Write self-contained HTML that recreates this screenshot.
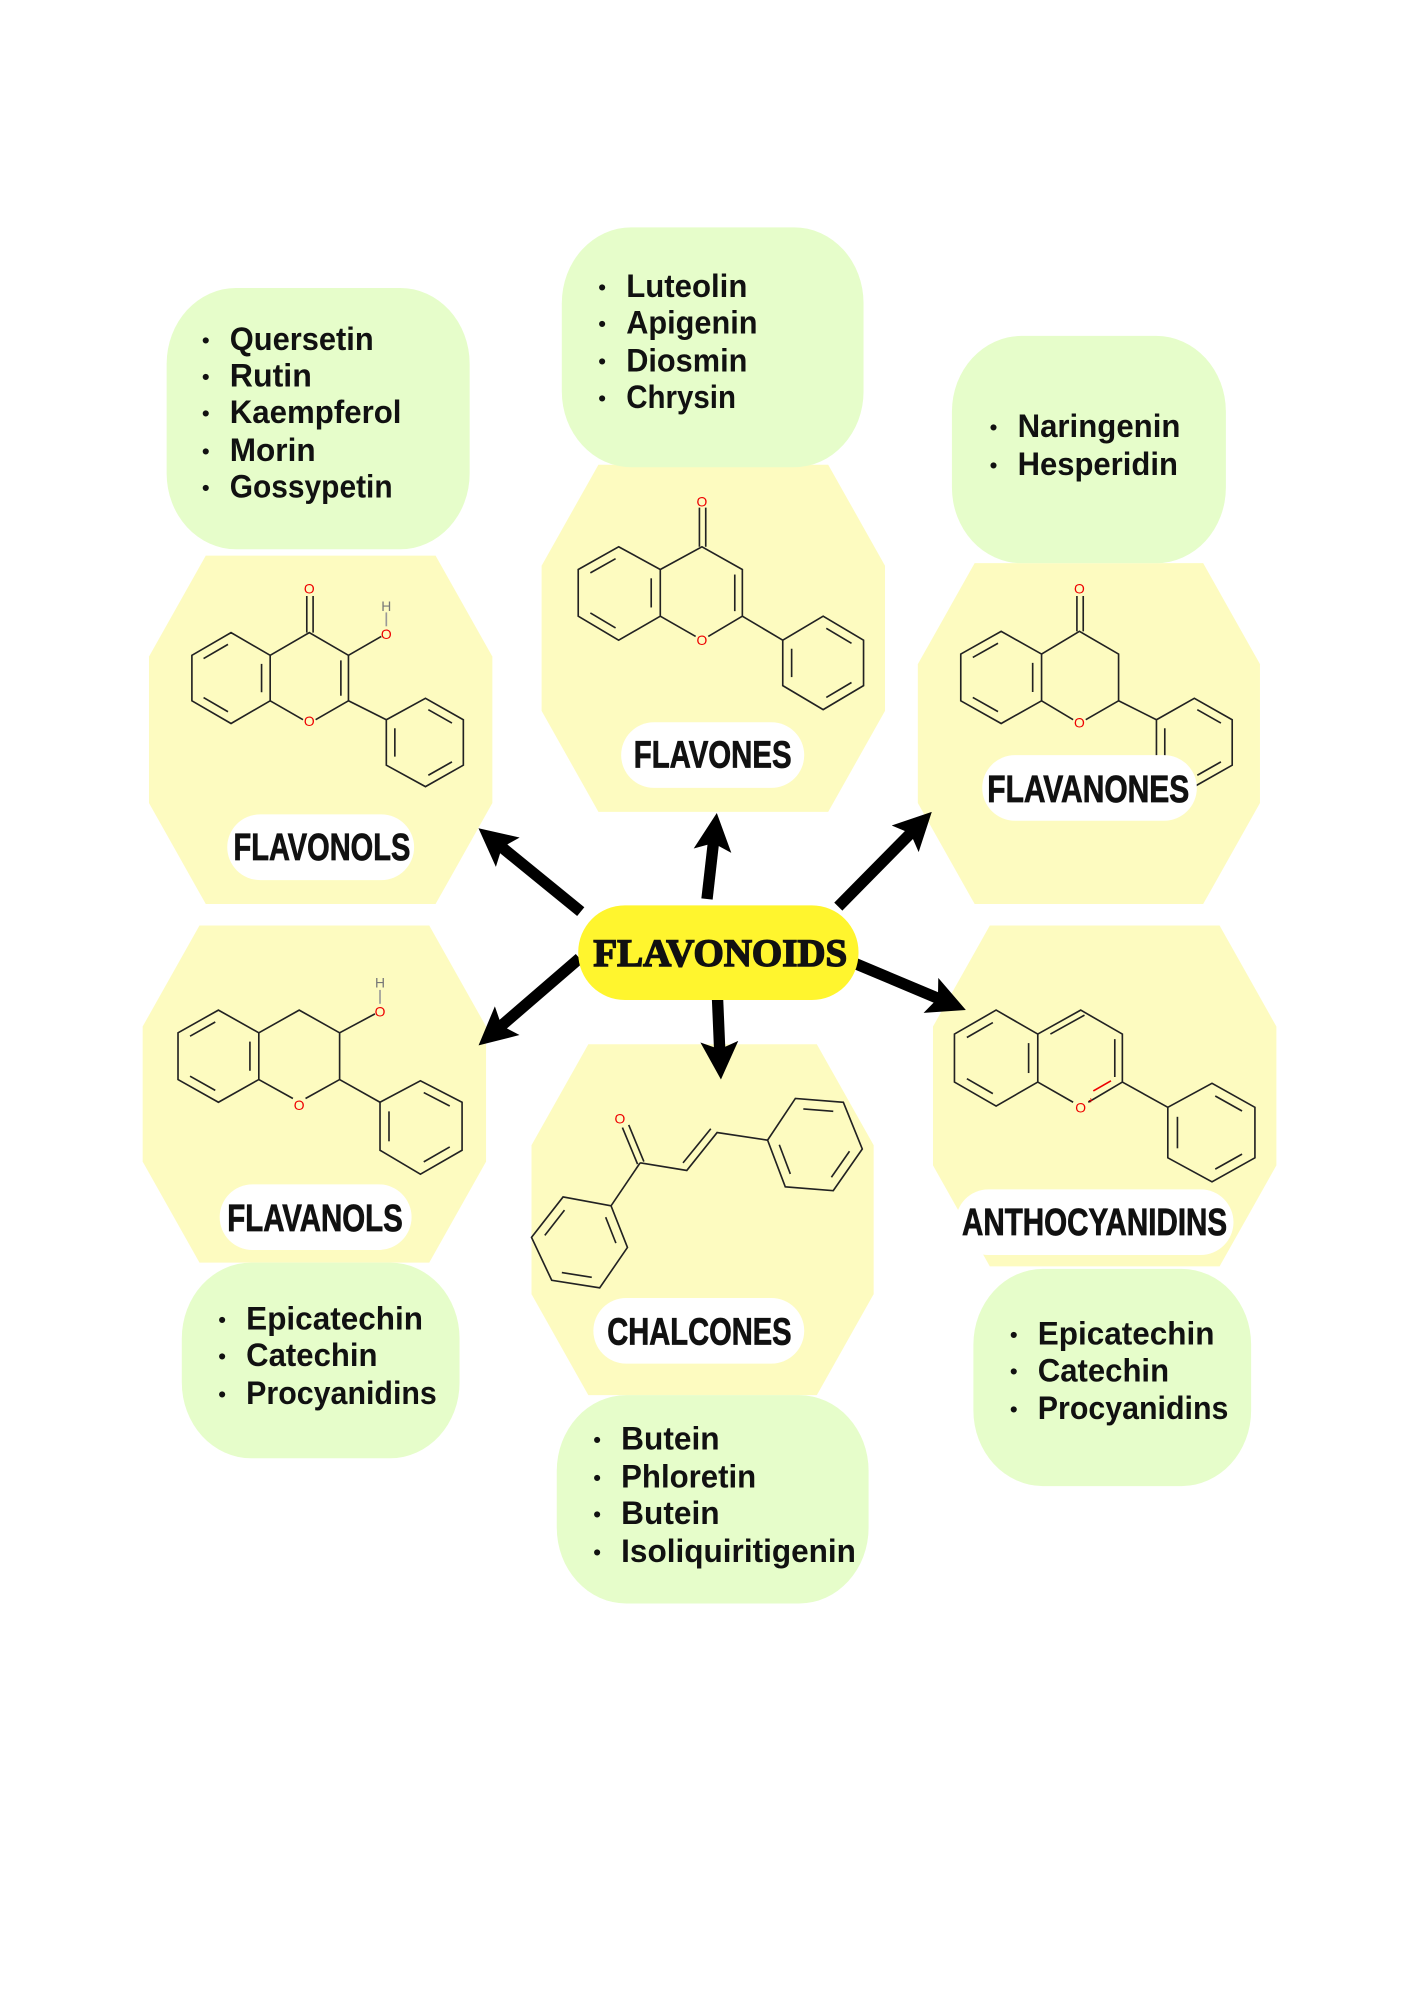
<!DOCTYPE html>
<html><head><meta charset="utf-8">
<style>
html,body{margin:0;padding:0;background:#fff;}
svg{display:block;}
.lst{font-family:"Liberation Sans",sans-serif;font-weight:bold;font-size:26px;fill:#111;}
.b{font-size:17px;}
.lbl{font-family:"Liberation Sans",sans-serif;font-weight:bold;font-size:30px;fill:#111;}
.m{stroke:#222;stroke-width:1.3;fill:none;}
.o{font-family:"Liberation Sans",sans-serif;font-size:11px;fill:#e00;text-anchor:middle;}
.h{font-family:"Liberation Sans",sans-serif;font-size:11px;fill:#777;text-anchor:middle;}
</style></head>
<body>
<svg id="s" width="1414" height="2000" viewBox="0 0 1120 1584" xmlns="http://www.w3.org/2000/svg">
<defs>
<marker id="ah" viewBox="0 0 30 30" refX="10" refY="15" markerWidth="30" markerHeight="30" orient="auto" markerUnits="userSpaceOnUse">
<path d="M0,0 L30,15 L0,30 L6,15 z" fill="#000"/>
</marker>
</defs>
<rect width="1120" height="1584" fill="#fff"/>

<g fill="#fdfbc0">
<polygon points="163,440 345,440 390,520 390,636 345,716 163,716 118,636 118,520"/>
<polygon points="474,368 656,368 701,448 701,563 656,643 474,643 429,563 429,448"/>
<polygon points="772,446 953,446 998,526 998,636 953,716 772,716 727,636 727,526"/>
<polygon points="158,733 340,733 385,813 385,920 340,1000 158,1000 113,920 113,813"/>
<polygon points="466,827 647,827 692,907 692,1025 647,1105 466,1105 421,1025 421,907"/>
<polygon points="784,733 966,733 1011,813 1011,923 966,1003 784,1003 739,923 739,813"/>
</g>

<g fill="#e6fdca">
<rect x="132" y="228" width="240" height="207" rx="55" ry="60"/>
<rect x="445" y="180" width="239" height="190" rx="55" ry="60"/>
<rect x="754" y="266" width="217" height="180" rx="55" ry="60"/>
<rect x="144" y="1000" width="220" height="155" rx="55" ry="60"/>
<rect x="441" y="1105" width="247" height="165" rx="55" ry="60"/>
<rect x="771" y="1005" width="220" height="172" rx="55" ry="60"/>
</g>

<g id="mol" class="m">
<polygon class="ring" points="183,501 214,519 214,555 183,573 152,555 152,519"/>
<polyline points="214,519 245,501 276,519 276,555 250,570"/>
<polyline points="240,570 214,555"/>
<line x1="270" y1="523" x2="270" y2="551"/>
<line x1="243" y1="501" x2="243" y2="472"/><line x1="248" y1="501" x2="248" y2="472"/>
<line x1="276" y1="519" x2="302" y2="504"/>
<line x1="306" y1="485" x2="306" y2="496" stroke="#999"/>
<line x1="276" y1="555" x2="306" y2="570"/>
<polygon class="ring" points="306,570 337,553 367,570 367,606 337,623 306,606"/>
<polygon class="ring" points="490,433 523,451 523,488 490,507 458,488 458,451"/>
<polyline points="523,451 556,433 588,451 588,488 561,504"/>
<polyline points="551,504 523,488"/>
<line x1="582" y1="455" x2="582" y2="484"/>
<line x1="554" y1="433" x2="554" y2="402"/><line x1="559" y1="433" x2="559" y2="402"/>
<line x1="588" y1="488" x2="620" y2="507"/>
<polygon class="ring" points="620,507 652,488 684,507 684,543 652,562 620,543"/>
<polygon class="ring" points="793,500 825,518 825,555 793,573 761,555 761,518"/>
<polyline points="825,518 855,500 886,518 886,555 860,570"/>
<polyline points="850,570 825,555"/>
<line x1="853" y1="500" x2="853" y2="472"/><line x1="858" y1="500" x2="858" y2="472"/>
<line x1="886" y1="555" x2="916" y2="570"/>
<polygon class="ring" points="916,570 946,553 976,570 976,606 946,623 916,606"/>
<polygon class="ring" points="173,800 205,818 205,855 173,873 141,855 141,818"/>
<polyline points="205,818 237,800 269,818 269,855 242,870"/>
<polyline points="232,870 205,855"/>
<line x1="269" y1="818" x2="297" y2="803"/>
<line x1="301" y1="784" x2="301" y2="795" stroke="#999"/>
<line x1="269" y1="855" x2="301" y2="873"/>
<polygon class="ring" points="301,873 333,856 366,873 366,911 333,930 301,911"/>
<polygon class="ring" points="789,800 822,819 822,857 789,876 756,857 756,819"/>
<polyline points="822,819 856,800 889,819 889,857 862,873"/>
<polyline points="850,873 822,857"/>
<line x1="829" y1="813" x2="856" y2="798" transform="translate(3,6)"/>
<line x1="883" y1="823" x2="883" y2="853"/>
<line x1="880" y1="856" x2="866" y2="864" stroke="#e00"/>
<line x1="889" y1="857" x2="925" y2="877"/>
<polygon class="ring" points="925,877 960,858 994,877 994,917 960,936 925,917"/>
<line x1="493" y1="893" x2="505" y2="922"/><line x1="498" y1="891" x2="510" y2="920"/>
<polyline points="507,921 544,927 568,897 608,903"/>
<line x1="541" y1="921" x2="563" y2="894"/>
<polygon class="ring" points="608,903 630,870 668,873 683,910 660,943 622,940"/>
<line x1="507" y1="921" x2="484" y2="955"/>
<polygon class="ring" points="484,955 446,948 421,980 437,1014 475,1020 497,988"/>
</g>
<g>
<text class="o" x="245" y="470">O</text>
<text class="o" x="245" y="575">O</text>
<text class="o" x="306" y="506">O</text>
<text class="h" x="306" y="484">H</text>
<text class="o" x="556" y="401">O</text>
<text class="o" x="556" y="511">O</text>
<text class="o" x="855" y="470">O</text>
<text class="o" x="855" y="576">O</text>
<text class="o" x="301" y="805">O</text>
<text class="h" x="301" y="782">H</text>
<text class="o" x="237" y="879">O</text>
<text class="o" x="856" y="881">O</text>
<text class="o" x="864" y="874" style="font-size:7px">+</text>
<text class="o" x="491" y="890">O</text>
</g>

<g stroke="#000" stroke-width="9" marker-end="url(#ah)">
<line x1="460" y1="722" x2="394.5" y2="668.6"/>
<line x1="560" y1="712" x2="565.5" y2="663.8"/>
<line x1="664" y1="718" x2="724" y2="657.2"/>
<line x1="459" y1="759" x2="394.2" y2="814.9"/>
<line x1="568" y1="783" x2="570.2" y2="835"/>
<line x1="670" y1="760" x2="746.6" y2="792.2"/>
</g>

<rect x="458" y="717" width="222" height="75" rx="37" fill="#fff52e"/>
<text x="470" y="765" textLength="201" lengthAdjust="spacingAndGlyphs" style="font-family:'Liberation Serif',serif;font-weight:900;font-size:31px;fill:#111;stroke:#111;stroke-width:1.2">FLAVONOIDS</text>

<g fill="#fff">
<rect x="180" y="645" width="148" height="52" rx="26"/>
<rect x="492" y="572" width="145" height="52" rx="26"/>
<rect x="778" y="598" width="170" height="52" rx="26"/>
<rect x="174" y="938" width="152" height="52" rx="26"/>
<rect x="470" y="1028" width="167" height="52" rx="26"/>
<rect x="757" y="942" width="220" height="52" rx="26"/>
</g>
<g class="lbl" style="stroke:#111;stroke-width:0.6">
<text x="185" y="681" textLength="140" lengthAdjust="spacingAndGlyphs">FLAVONOLS</text>
<text x="502" y="608" textLength="125" lengthAdjust="spacingAndGlyphs">FLAVONES</text>
<text x="782" y="635" textLength="160" lengthAdjust="spacingAndGlyphs">FLAVANONES</text>
<text x="180" y="975" textLength="139" lengthAdjust="spacingAndGlyphs">FLAVANOLS</text>
<text x="481" y="1065" textLength="146" lengthAdjust="spacingAndGlyphs">CHALCONES</text>
<text x="762" y="978" textLength="210" lengthAdjust="spacingAndGlyphs">ANTHOCYANIDINS</text>
</g>

<g class="lst">
<text class="b" x="160" y="275">•</text><text x="182" y="277" textLength="114" lengthAdjust="spacingAndGlyphs">Quersetin</text>
<text class="b" x="160" y="304">•</text><text x="182" y="306" textLength="65" lengthAdjust="spacingAndGlyphs">Rutin</text>
<text class="b" x="160" y="333">•</text><text x="182" y="335" textLength="136" lengthAdjust="spacingAndGlyphs">Kaempferol</text>
<text class="b" x="160" y="363">•</text><text x="182" y="365" textLength="68" lengthAdjust="spacingAndGlyphs">Morin</text>
<text class="b" x="160" y="392">•</text><text x="182" y="394" textLength="129" lengthAdjust="spacingAndGlyphs">Gossypetin</text>

<text class="b" x="474" y="233">•</text><text x="496" y="235" textLength="96" lengthAdjust="spacingAndGlyphs">Luteolin</text>
<text class="b" x="474" y="262">•</text><text x="496" y="264" textLength="104" lengthAdjust="spacingAndGlyphs">Apigenin</text>
<text class="b" x="474" y="292">•</text><text x="496" y="294" textLength="96" lengthAdjust="spacingAndGlyphs">Diosmin</text>
<text class="b" x="474" y="321">•</text><text x="496" y="323" textLength="87" lengthAdjust="spacingAndGlyphs">Chrysin</text>

<text class="b" x="784" y="344">•</text><text x="806" y="346" textLength="129" lengthAdjust="spacingAndGlyphs">Naringenin</text>
<text class="b" x="784" y="374">•</text><text x="806" y="376" textLength="127" lengthAdjust="spacingAndGlyphs">Hesperidin</text>

<text class="b" x="173" y="1051">•</text><text x="195" y="1053" textLength="140" lengthAdjust="spacingAndGlyphs">Epicatechin</text>
<text class="b" x="173" y="1080">•</text><text x="195" y="1082" textLength="104" lengthAdjust="spacingAndGlyphs">Catechin</text>
<text class="b" x="173" y="1110">•</text><text x="195" y="1112" textLength="151" lengthAdjust="spacingAndGlyphs">Procyanidins</text>

<text class="b" x="470" y="1146">•</text><text x="492" y="1148" textLength="78" lengthAdjust="spacingAndGlyphs">Butein</text>
<text class="b" x="470" y="1176">•</text><text x="492" y="1178" textLength="107" lengthAdjust="spacingAndGlyphs">Phloretin</text>
<text class="b" x="470" y="1205">•</text><text x="492" y="1207" textLength="78" lengthAdjust="spacingAndGlyphs">Butein</text>
<text class="b" x="470" y="1235">•</text><text x="492" y="1237" textLength="186" lengthAdjust="spacingAndGlyphs">Isoliquiritigenin</text>

<text class="b" x="800" y="1063">•</text><text x="822" y="1065" textLength="140" lengthAdjust="spacingAndGlyphs">Epicatechin</text>
<text class="b" x="800" y="1092">•</text><text x="822" y="1094" textLength="104" lengthAdjust="spacingAndGlyphs">Catechin</text>
<text class="b" x="800" y="1122">•</text><text x="822" y="1124" textLength="151" lengthAdjust="spacingAndGlyphs">Procyanidins</text>
</g>
</svg>
<script>
(function(){
var ns="http://www.w3.org/2000/svg",g=document.getElementById("mol");
var rings=g.querySelectorAll("polygon.ring");
for(var i=0;i<rings.length;i++){
 var p=rings[i].getAttribute("points").trim().split(/\s+/).map(function(s){var a=s.split(",");return[+a[0],+a[1]];});
 var cx=0,cy=0;p.forEach(function(q){cx+=q[0];cy+=q[1];});cx/=6;cy/=6;
 for(var k=1;k<6;k+=2){
  var a=p[k],b=p[(k+1)%6],f=0.78;
  var ax=cx+(a[0]-cx)*f,ay=cy+(a[1]-cy)*f,bx=cx+(b[0]-cx)*f,by=cy+(b[1]-cy)*f;
  var sx=ax+(bx-ax)*0.1,sy=ay+(by-ay)*0.1,ex=ax+(bx-ax)*0.9,ey=ay+(by-ay)*0.9;
  var l=document.createElementNS(ns,"line");
  l.setAttribute("x1",sx);l.setAttribute("y1",sy);l.setAttribute("x2",ex);l.setAttribute("y2",ey);
  g.appendChild(l);
 }
}
})();
</script>
</body></html>
